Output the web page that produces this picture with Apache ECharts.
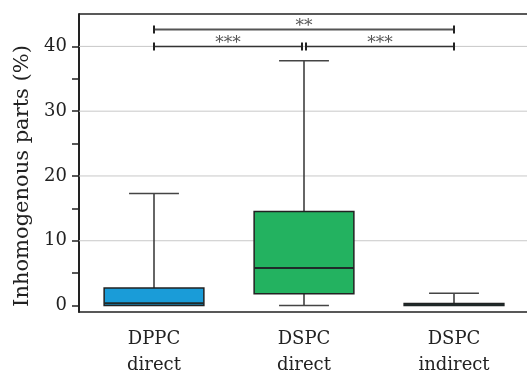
<!DOCTYPE html>
<html>
<head>
<meta charset="utf-8">
<script src="https://cdn.jsdelivr.net/npm/echarts@6/dist/echarts.min.js"></script>
<style>html,body{margin:0;padding:0;background:#fff;overflow:hidden;}#c{width:527px;height:374px;}</style>
</head>
<body>
<div id="c"></div>
<script>
const categories = ['DPPC\ndirect', 'DSPC\ndirect', 'DSPC\nindirect'];
const whiskerMin = [0, 0, 0];
const q1 = [0, 1.8, 0];
const median = [0.35, 5.8, 0.12];
const q3 = [2.7, 14.5, 0.32];
const whiskerMax = [17.3, 37.8, 1.9];
const boxColors = ['#1a9cd8', '#23b260', '#333333'];
const yTickValues = [0, 5, 10, 15, 20, 25, 30, 35, 40];
const yLabelValues = [0, 10, 20, 30, 40];
const yGridValues = [10, 20, 30, 40];
// brackets: [fromCategory, toCategory, yValue, label]
const brackets = [[0, 1, 40, '***'], [1, 2, 40, '***'], [0, 2, 42.6, '**']];

const FONT = 'DejaVu Serif';
const boxData = categories.map((c, i) => [i, whiskerMin[i], q1[i], median[i], q3[i], whiskerMax[i]]);
const gridData = yGridValues.map(v => [v]);

const chart = echarts.init(document.getElementById('c'));
chart.setOption({
  animation: false,
  backgroundColor: '#fff',
  grid: { left: 79, right: -2, top: 14, bottom: 62, outerBoundsMode: 'none', containLabel: false },
  xAxis: [{
    type: 'category', data: categories, position: 'bottom',
    axisLine: { onZero: false, lineStyle: { color: '#222', width: 1.5 } },
    axisTick: { alignWithLabel: true, length: 8, lineStyle: { color: '#222', width: 1.5 } },
    axisLabel: { fontFamily: FONT, fontSize: 18, color: '#222', lineHeight: 26, margin: 14 },
    splitLine: { show: false }
  }],
  yAxis: [{
    type: 'value', min: -1, max: 45,
    axisLine: { show: true, onZero: false, lineStyle: { color: '#222', width: 2 } },
    axisTick: { show: true, length: 7, customValues: yTickValues, lineStyle: { color: '#222', width: 1.5 } },
    axisLabel: { customValues: yLabelValues, fontFamily: FONT, fontSize: 18, color: '#222', margin: 12 },
    splitLine: { show: false }
  }],
  graphic: [{
    type: 'text', x: 23, y: 176, rotation: Math.PI / 2,
    style: { text: 'Inhomogenous parts (%)', fontFamily: FONT, fontSize: 21, fill: '#222', align: 'center', verticalAlign: 'middle' }
  }],
  series: [{
    type: 'custom',
    data: gridData,
    encode: { y: 0 },
    renderItem: function (params, api) {
      const v = api.value(0);
      const p = api.coord([0, v]);
      const cs = params.coordSys;
      const children = [{ type: 'line', shape: { x1: cs.x, y1: p[1], x2: cs.x + cs.width, y2: p[1] }, style: { stroke: '#c8c8c8', lineWidth: 1 } }];
      if (params.dataIndex === 0) {
        children.push({ type: 'line', shape: { x1: cs.x, y1: cs.y, x2: cs.x + cs.width, y2: cs.y }, style: { stroke: '#222', lineWidth: 1.5 } });
      }
      return { type: 'group', children: children };
    },
    z: 1
  }, {
    type: 'custom',
    data: boxData,
    renderItem: function (params, api) {
      const i = api.value(0);
      const band = api.size([1, 0])[0];
      const bw = band * 0.665;
      const cw = bw * 0.5;
      const pMin = api.coord([i, api.value(1)]);
      const pQ1 = api.coord([i, api.value(2)]);
      const pMed = api.coord([i, api.value(3)]);
      const pQ3 = api.coord([i, api.value(4)]);
      const pMax = api.coord([i, api.value(5)]);
      const x = pQ1[0];
      const children = [];
      children.push({ type: 'line', shape: { x1: x, y1: pQ3[1], x2: x, y2: pMax[1] }, style: { stroke: '#333', lineWidth: 1.5 } });
      children.push({ type: 'line', shape: { x1: x - cw / 2, y1: pMax[1], x2: x + cw / 2, y2: pMax[1] }, style: { stroke: '#444', lineWidth: 1.5 } });
      if (api.value(1) < api.value(2)) {
        children.push({ type: 'line', shape: { x1: x, y1: pQ1[1], x2: x, y2: pMin[1] }, style: { stroke: '#333', lineWidth: 1.5 } });
        children.push({ type: 'line', shape: { x1: x - cw / 2, y1: pMin[1], x2: x + cw / 2, y2: pMin[1] }, style: { stroke: '#444', lineWidth: 1.5 } });
      }
      children.push({ type: 'rect', shape: { x: x - bw / 2, y: pQ3[1], width: bw, height: pQ1[1] - pQ3[1] }, style: { fill: boxColors[i], stroke: '#222', lineWidth: 1.5 } });
      children.push({ type: 'line', shape: { x1: x - bw / 2, y1: pMed[1], x2: x + bw / 2, y2: pMed[1] }, style: { stroke: '#1f2a2a', lineWidth: 2 } });
      return { type: 'group', children: children };
    },
    z: 3
  }, {
    type: 'custom',
    data: brackets,
    renderItem: function (params, api) {
      const from = api.value(0), to = api.value(1), yv = api.value(2);
      const idx = params.dataIndex;
      const label = brackets[idx][3];
      const shared = (c) => brackets.some((b, j) => j !== idx && b[2] === yv && (b[0] === c || b[1] === c));
      const p1 = api.coord([from, yv]);
      const p2 = api.coord([to, yv]);
      const gap = 2;
      const x1 = p1[0] + (shared(from) ? gap : 0);
      const x2 = p2[0] - (shared(to) ? gap : 0);
      const y = p1[1];
      const top = yv > 41;
      const col = top ? '#555' : '#333';
      return { type: 'group', children: [
        { type: 'line', shape: { x1: x1, y1: y, x2: x2, y2: y }, style: { stroke: col, lineWidth: top ? 2 : 1.5 } },
        { type: 'line', shape: { x1: x1, y1: y - 4, x2: x1, y2: y + 4 }, style: { stroke: '#222', lineWidth: 2 } },
        { type: 'line', shape: { x1: x2, y1: y - 4, x2: x2, y2: y + 4 }, style: { stroke: '#222', lineWidth: 2 } },
        { type: 'text', x: (x1 + x2) / 2, y: y + 6, style: { text: label, fontFamily: FONT, fontSize: 17, fill: '#555', align: 'center', verticalAlign: 'bottom' } }
      ] };
    },
    z: 4
  }]
});
</script>
</body>
</html>
